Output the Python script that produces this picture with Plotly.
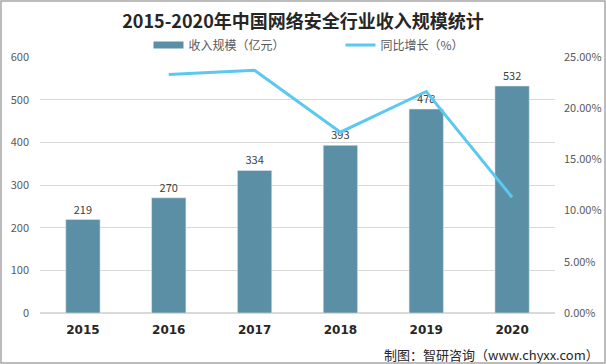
import plotly.graph_objects as go

years = ["2015", "2016", "2017", "2018", "2019", "2020"]
revenue = [219, 270, 334, 393, 478, 532]
growth_years = ["2016", "2017", "2018", "2019", "2020"]
growth = [0.2329, 0.2370, 0.1766, 0.2163, 0.1130]

W, H = 606, 364
ml, mr, mt, mb = 40, 51, 57, 51
pw = W - ml - mr
ph = H - mt - mb

BAR_COLOR = "#5B8FA6"
LINE_COLOR = "#5BC8F0"

fig = go.Figure()
fig.add_trace(go.Bar(
    x=years, y=revenue, name="收入规模（亿元）", showlegend=False,
    marker=dict(color=BAR_COLOR), width=0.4,
    text=[str(v) for v in revenue], textposition="outside",
    textfont=dict(size=11, color="#404040"), cliponaxis=False,
))
# legend proxy for the bar series (flat wide swatch as in the reference)
fig.add_trace(go.Scatter(
    x=[None], y=[None], name="收入规模（亿元）", mode="lines",
    line=dict(color=BAR_COLOR, width=7),
))
fig.add_trace(go.Scatter(
    x=growth_years, y=growth, name="同比增长（%）", yaxis="y2",
    mode="lines", line=dict(color=LINE_COLOR, width=3),
))

fig.update_layout(
    width=W, height=H,
    margin=dict(l=ml, r=mr, t=mt, b=mb, autoexpand=False),
    paper_bgcolor="white", plot_bgcolor="white",
    font=dict(family="Noto Sans CJK SC, Microsoft YaHei, sans-serif", color="#595959"),
    title=dict(text="<b>2015-2020年中国网络安全行业收入规模统计</b>",
               x=0.5, xanchor="center", yref="container", y=1 - 22 / H, yanchor="middle",
               font=dict(size=18, color="#262626")),
    legend=dict(orientation="h", x=0.5 + 43 / pw, xanchor="center",
                yref="container", y=1 - 45 / H, yanchor="middle",
                font=dict(size=12, color="#595959"),
                entrywidth=147, entrywidthmode="pixels",
                bgcolor="rgba(0,0,0,0)"),
    showlegend=True,
    xaxis=dict(showgrid=False, showline=False, ticks="",
               tickfont=dict(size=12, color="#262626", family="Arial Black, DejaVu Sans"),
               tickprefix="<b>", ticksuffix="</b>", ticklabelstandoff=8),
    yaxis=dict(range=[0, 600], dtick=100, showgrid=True, gridcolor="#D9D9D9",
               zeroline=True, zerolinecolor="#D9D9D9", showline=False,
               tickfont=dict(size=11, color="#595959"), ticklabelstandoff=10),
    yaxis2=dict(range=[0, 0.25], dtick=0.05, tickformat=".2%", overlaying="y",
                side="right", showgrid=False, zeroline=False, showline=False,
                tickfont=dict(size=11, color="#595959"), ticklabelstandoff=8),
    shapes=[dict(type="rect", xref="paper", yref="paper",
                 x0=-(ml - 1) / pw, x1=1 + (mr - 1) / pw,
                 y0=-(mb - 1) / ph, y1=1 + (mt - 1) / ph,
                 line=dict(color="#A6A6A6", width=1.5), layer="above")],
    annotations=[dict(text="制图：智研咨询（www.chyxx.com）", xref="paper", yref="paper",
                      x=1 + (mr - 5) / pw, xanchor="right",
                      y=-(mb - 10) / ph, yanchor="middle", showarrow=False,
                      font=dict(size=13, color="#262626"))],
)

fig.write_html("out.html", config={"displayModeBar": False},
               post_script="document.body.style.margin='0';document.body.style.overflow='hidden';")
